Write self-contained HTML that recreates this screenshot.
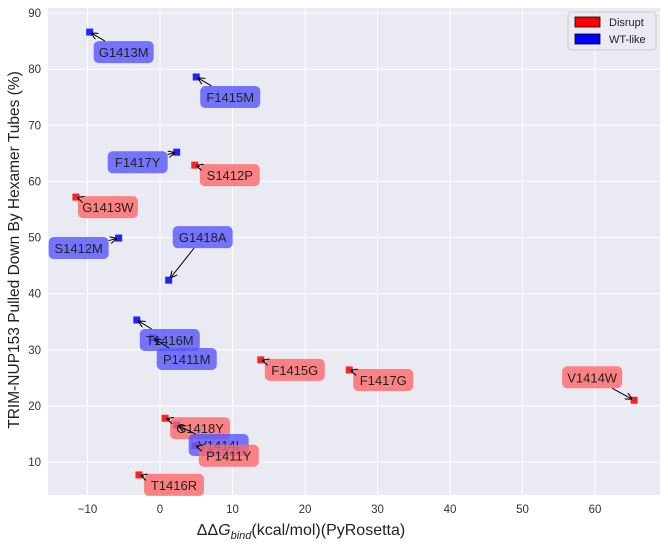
<!DOCTYPE html>
<html><head><meta charset="utf-8"><style>
body{margin:0;background:#fff;font-family:"Liberation Sans",sans-serif}
svg text{font-family:"Liberation Sans",sans-serif}
</style></head><body>
<svg id="chart" width="668" height="546">
<defs><marker id="ah" viewBox="0 0 10 10" refX="9" refY="5" markerWidth="7" markerHeight="7" orient="auto"><path d="M0,0 L10,5 L0,10" fill="none" stroke="#000" stroke-width="1.5"/></marker></defs>
<rect x="48" y="8" width="612" height="487" fill="#eaeaf2"/>
<g id="grid"></g><g id="ticks"></g><g id="marks"></g>
<text x="301" y="535" font-size="16" text-anchor="middle" fill="#222">ΔΔ<tspan font-style="italic">G</tspan><tspan font-style="italic" font-size="11" dy="4">bind</tspan><tspan dy="-4">(kcal/mol)(PyRosetta)</tspan></text>
<text transform="translate(19,250) rotate(-90)" font-size="15.5" text-anchor="middle" fill="#222">TRIM-NUP153 Pulled Down By Hexamer Tubes (%)</text>
<g>
<rect x="568" y="12" width="88" height="38" rx="3" fill="#eaeaf2" stroke="#ccc"/>
<rect x="575" y="17" width="25" height="10" fill="#f00" stroke="#000" stroke-width="0.8"/>
<text x="609" y="26" font-size="11" fill="#222">Disrupt</text>
<rect x="575" y="34" width="25" height="10" fill="#00f" stroke="#000" stroke-width="0.8"/>
<text x="609" y="43" font-size="11" fill="#222">WT-like</text>
</g>
</svg>
<script>
const names=["G1413M","F1415M","F1417Y","S1412P","G1413W","S1412M","G1418A","T1416M","P1411M","F1415G","F1417G","V1414W","G1418Y","V1414I","P1411Y","T1416R"];
const ddg=[-9.7,5.0,2.3,4.8,-11.6,-5.7,1.2,-3.2,-1.0,13.9,26.1,65.4,0.7,2.3,4.8,-2.9];
const pulldown=[86.6,78.6,65.2,62.9,57.2,49.9,42.4,35.3,32.1,28.2,26.4,21.0,17.8,16.6,12.9,7.7];
const category=["WT","WT","WT","D","D","WT","WT","WT","WT","D","D","D","D","WT","D","D"];
const xTicks=[-10,0,10,20,30,40,50,60];
const yTicks=[10,20,30,40,50,60,70,80,90];
const offs=[[34,20],[34,20],[-39,10],[35,10],[32,10],[-40,10],[34,-43],[33,20],[34,21],[34,10],[34,10],[-42,-23],[35,10],[42,20],[34,10],[35,10]];
const X=v=>160+7.25*v, Y=v=>462-(v-10)*5.6125;
const NS="http://www.w3.org/2000/svg";
function mk(t,a,p){const e=document.createElementNS(NS,t);for(const k in a)e.setAttribute(k,a[k]);p.appendChild(e);return e;}
const grid=document.getElementById('grid'),ticks=document.getElementById('ticks'),marks=document.getElementById('marks');
xTicks.forEach(t=>{const l=mk('line',{x1:X(t),x2:X(t),y1:8,y2:495,stroke:'#fff','stroke-width':1},grid);


const s=mk('text',{x:X(t),y:513,'font-size':11.5,'text-anchor':'middle',fill:'#333'},ticks);s.textContent=t<0?'−'+(-t):t;

});
yTicks.forEach(t=>{const l=mk('line',{x1:48,x2:660,y1:Y(t),y2:Y(t),stroke:'#fff','stroke-width':1},grid);


const s=mk('text',{x:41,y:Y(t)+4,'font-size':11.5,'text-anchor':'end',fill:'#333'},ticks);s.textContent=t;

});
const pts=mk('g',{},marks),lbl=mk('g',{},marks),lay=mk('g',{},marks);
names.forEach((n,i)=>{const px=X(ddg[i]),py=Y(pulldown[i]);const col=category[i]==="D"?"#f00":"#00f";
const r=mk('rect',{x:px-3.5,y:py-3.5,width:7,height:7,fill:col,opacity:0.85},pts);


const cx=px+offs[i][0],cy=py+offs[i][1];const w=n.length*8+12,h=22;
const b=mk('rect',{x:cx-w/2,y:cy-h/2,width:w,height:h,rx:5,fill:col==="#f00"?"#f66":"#55f",opacity:0.8},lbl);


const t=mk('text',{x:cx,y:cy+5,'font-size':13,'text-anchor':'middle',fill:'#222'},lbl);t.textContent=n;


const dx=px-cx,dy=py-cy;const k=Math.min((w/2)/Math.abs(dx||1e-6),(h/2)/Math.abs(dy||1e-6));
const sx=cx+dx*k,sy=cy+dy*k;
const ln=mk('line',{x1:sx,y1:sy,x2:px-dx*0.06,y2:py-dy*0.06,stroke:'#000','stroke-width':1,'marker-end':'url(#ah)'},lay);

});
</script>
</body></html>
